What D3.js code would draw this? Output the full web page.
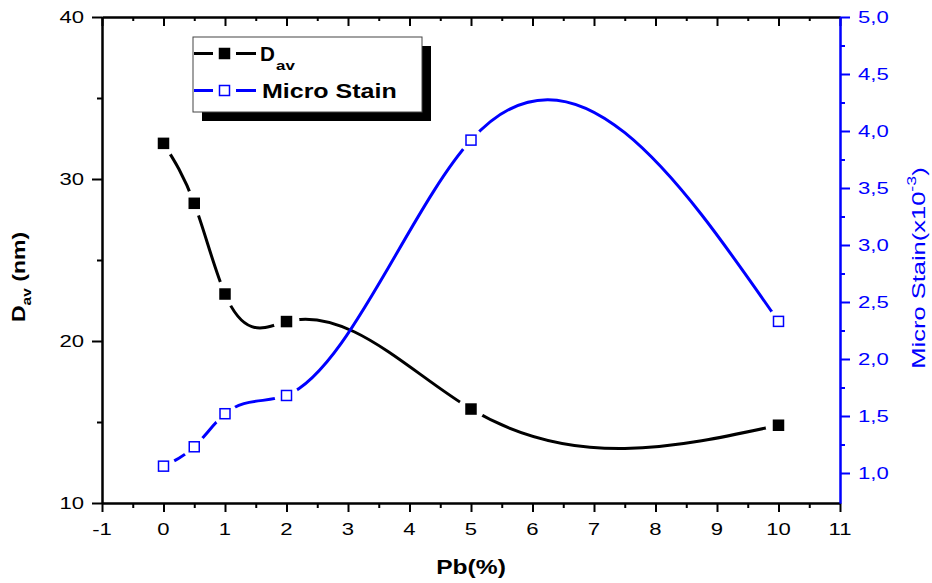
<!DOCTYPE html>
<html><head><meta charset="utf-8">
<script src="https://cdn.jsdelivr.net/npm/d3@7"></script>
<style>body{margin:0;background:#fff}</style>
</head><body>
<svg id="c" width="932" height="583"></svg>
<script>
// ---------- data ----------
const pb = [0, 0.5, 1, 2, 5, 10];
const dav = [32.2, 28.5, 22.9, 21.2, 15.8, 14.8];
const microStrain = [1.06, 1.23, 1.52, 1.68, 3.92, 2.33];
const xTicks = [-1, 0, 1, 2, 3, 4, 5, 6, 7, 8, 9, 10, 11];
const xMinor = [-0.5, 0.5, 1.5, 2.5, 3.5, 4.5, 5.5, 6.5, 7.5, 8.5, 9.5, 10.5];
const yLeftTicks = [10, 20, 30, 40];
const yLeftMinor = [15, 25, 35];
const yRightTicks = [1.0, 1.5, 2.0, 2.5, 3.0, 3.5, 4.0, 4.5, 5.0];
const yRightLabels = ["1,0", "1,5", "2,0", "2,5", "3,0", "3,5", "4,0", "4,5", "5,0"];
const yRightMinor = [1.25, 1.75, 2.25, 2.75, 3.25, 3.75, 4.25, 4.75];
const seriesNames = ["D", "Micro Stain"];

// ---------- layout ----------
const W = 932, H = 583;
const L = 102, R = 840, T = 17, B = 503;
const BLUE = "#0000ff";
const FONT = "'Liberation Sans', Arial, sans-serif";

const svg = d3.select("#c");
const x = d3.scaleLinear().domain([-1, 11]).range([L, R]);
const yL = d3.scaleLinear().domain([10, 40]).range([B, T]);
const yRbase = d3.scaleLinear().domain([1, 5]).range([473, T]);
const yR = d3.scaleLinear().domain([yRbase.invert(B), 5]).range([B, T]);

function txt(parent, px, py, s, o) {
  const t = parent.append("text")
    .attr("transform", `translate(${px},${py}) rotate(${o.rotate || 0}) scale(${o.sx || 1},1)`)
    .attr("font-family", FONT)
    .attr("font-size", o.size)
    .attr("font-weight", o.weight || "normal")
    .attr("text-anchor", o.anchor || "start")
    .attr("fill", o.fill || "#000");
  if (s !== null) t.text(s);
  return t;
}

// ---------- axes ----------
function styleAxis(g, color) {
  g.selectAll("path.domain").attr("stroke", color).attr("stroke-width", 2);
  g.selectAll(".tick line").attr("stroke", color).attr("stroke-width", 2);
  g.selectAll(".tick text").remove();
}
// bottom
const gB = svg.append("g").attr("transform", `translate(0,${B})`);
gB.call(d3.axisBottom(x).tickValues(xTicks).tickSize(9).tickSizeOuter(0).tickFormat(""));
styleAxis(gB, "#000");
const gBm = svg.append("g").attr("transform", `translate(0,${B})`);
gBm.call(d3.axisBottom(x).tickValues(xMinor).tickSize(5).tickSizeOuter(0).tickFormat(""));
styleAxis(gBm, "#000");
// top (ticks inward)
const gT = svg.append("g").attr("transform", `translate(0,${T})`);
gT.call(d3.axisTop(x).tickValues(xTicks).tickSize(-9).tickSizeOuter(0).tickFormat(""));
styleAxis(gT, "#000");
const gTm = svg.append("g").attr("transform", `translate(0,${T})`);
gTm.call(d3.axisTop(x).tickValues(xMinor).tickSize(-4).tickSizeOuter(0).tickFormat(""));
styleAxis(gTm, "#000");
// left
const gL = svg.append("g").attr("transform", `translate(${L},0)`);
gL.call(d3.axisLeft(yL).tickValues(yLeftTicks).tickSize(10).tickSizeOuter(0).tickFormat(""));
styleAxis(gL, "#000");
const gLm = svg.append("g").attr("transform", `translate(${L},0)`);
gLm.call(d3.axisLeft(yL).tickValues(yLeftMinor).tickSize(5).tickSizeOuter(0).tickFormat(""));
styleAxis(gLm, "#000");
// right (blue)
const gR = svg.append("g").attr("transform", `translate(${R},0)`);
gR.call(d3.axisRight(yR).tickValues(yRightTicks).tickSize(10).tickSizeOuter(0).tickFormat(""));
styleAxis(gR, BLUE);
const gRm = svg.append("g").attr("transform", `translate(${R},0)`);
gRm.call(d3.axisRight(yR).tickValues(yRightMinor).tickSize(5).tickSizeOuter(0).tickFormat(""));
styleAxis(gRm, BLUE);

// tick labels
const lab = svg.append("g");
xTicks.forEach(v => txt(lab, x(v), 535, String(v), {size: 17, anchor: "middle", sx: 1.3}));
yLeftTicks.forEach(v => txt(lab, 84, yL(v) + 6, String(v), {size: 17, anchor: "end", sx: 1.3}));
yRightTicks.forEach((v, i) => txt(lab, 858, yR(v) + 6, yRightLabels[i], {size: 17, anchor: "start", sx: 1.3, fill: BLUE}));

// axis titles
txt(svg, (L + R) / 2, 574, "Pb(%)", {size: 20, weight: "bold", anchor: "middle", sx: 1.23});
const lt = txt(svg, 25, 277, null, {size: 17.7, weight: "bold", anchor: "middle", rotate: -90, sx: 1.3});
lt.append("tspan").text("D");
lt.append("tspan").attr("font-size", 12).attr("dy", 6).text("av");
lt.append("tspan").attr("dy", -6).text(" (nm)");
const rt = txt(svg, 925, 268, null, {size: 18.6, anchor: "middle", rotate: -90, sx: 1.37, fill: BLUE});
rt.append("tspan").text("Micro Stain(x10");
rt.append("tspan").attr("font-size", 13).attr("dy", -9).text("-3");
rt.append("tspan").attr("dy", 9).text(")");

// ---------- natural cubic spline curve y(x) ----------
function splineX(context) {
  return {
    areaStart() {}, areaEnd() {},
    lineStart() { this._p = []; },
    point(px, py) { this._p.push([+px, +py]); },
    lineEnd() {
      const p = this._p, n = p.length;
      if (!n) return;
      context.moveTo(p[0][0], p[0][1]);
      if (n < 3) { for (let i = 1; i < n; i++) context.lineTo(p[i][0], p[i][1]); return; }
      const h = [];
      for (let i = 0; i < n - 1; i++) h.push(p[i + 1][0] - p[i][0]);
      const a = [], b = [], c = [], d = [];
      for (let i = 1; i < n - 1; i++) {
        a.push(h[i - 1]); b.push(2 * (h[i - 1] + h[i])); c.push(h[i]);
        d.push(6 * ((p[i + 1][1] - p[i][1]) / h[i] - (p[i][1] - p[i - 1][1]) / h[i - 1]));
      }
      const m = n - 2;
      for (let k = 1; k < m; k++) {
        const w = a[k] / b[k - 1];
        b[k] -= w * c[k - 1]; d[k] -= w * d[k - 1];
      }
      const sol = new Array(m);
      sol[m - 1] = d[m - 1] / b[m - 1];
      for (let k = m - 2; k >= 0; k--) sol[k] = (d[k] - c[k] * sol[k + 1]) / b[k];
      const M = [0, ...sol, 0];
      for (let i = 0; i < n - 1; i++) {
        const [x0, y0] = p[i], [x1, y1] = p[i + 1], hh = h[i];
        const sl = (y1 - y0) / hh;
        const s0 = sl - hh * (2 * M[i] + M[i + 1]) / 6;
        const s1 = sl + hh * (M[i] + 2 * M[i + 1]) / 6;
        context.bezierCurveTo(x0 + hh / 3, y0 + s0 * hh / 3, x1 - hh / 3, y1 - s1 * hh / 3, x1, y1);
      }
    }
  };
}

// ---------- series ----------
const defs = svg.append("defs");
function gapMask(id, pts, r) {
  const mk = defs.append("mask").attr("id", id).attr("maskUnits", "userSpaceOnUse")
    .attr("x", 0).attr("y", 0).attr("width", W).attr("height", H);
  mk.append("rect").attr("width", W).attr("height", H).attr("fill", "#fff");
  mk.selectAll("circle").data(pts).join("circle")
    .attr("cx", d => d[0]).attr("cy", d => d[1]).attr("r", r).attr("fill", "#000");
}
const davPts = pb.map((v, i) => [x(v), yL(dav[i])]);
const msPts = pb.map((v, i) => [x(v), yR(microStrain[i])]);
gapMask("gapDav", davPts, 13);
gapMask("gapMs", msPts, 12);

const line = d3.line().curve(splineX);
svg.append("path").attr("d", line(davPts)).attr("fill", "none")
  .attr("stroke", "#000").attr("stroke-width", 3).attr("mask", "url(#gapDav)");
svg.append("path").attr("d", line(msPts)).attr("fill", "none")
  .attr("stroke", BLUE).attr("stroke-width", 3).attr("mask", "url(#gapMs)");

const sq1 = 11.5, sq2 = 10;
svg.append("g").selectAll("rect").data(davPts).join("rect")
  .attr("x", d => d[0] - sq1 / 2).attr("y", d => d[1] - sq1 / 2)
  .attr("width", sq1).attr("height", sq1).attr("fill", "#000");
svg.append("g").selectAll("rect").data(msPts).join("rect")
  .attr("x", d => d[0] - sq2 / 2).attr("y", d => d[1] - sq2 / 2)
  .attr("width", sq2).attr("height", sq2).attr("fill", "#fff")
  .attr("stroke", BLUE).attr("stroke-width", 1.5);

// ---------- legend ----------
const lg = svg.append("g");
const lx = 193, ly = 37, lw = 229, lh = 75;
lg.append("rect").attr("x", lx + 9).attr("y", ly + 9).attr("width", lw).attr("height", lh).attr("fill", "#000");
lg.append("rect").attr("x", lx).attr("y", ly).attr("width", lw).attr("height", lh)
  .attr("fill", "#fff").attr("stroke", "#444").attr("stroke-width", 1);
const rows = [
  {y: 53.5, color: "#000", filled: true, size: sq1},
  {y: 90.5, color: BLUE, filled: false, size: sq2}
];
rows.forEach(r => {
  lg.append("line").attr("x1", 194).attr("x2", 213).attr("y1", r.y).attr("y2", r.y)
    .attr("stroke", r.color).attr("stroke-width", 3);
  lg.append("line").attr("x1", 236).attr("x2", 256).attr("y1", r.y).attr("y2", r.y)
    .attr("stroke", r.color).attr("stroke-width", 3);
  lg.append("rect").attr("x", 224.5 - r.size / 2).attr("y", r.y - r.size / 2)
    .attr("width", r.size).attr("height", r.size)
    .attr("fill", r.filled ? r.color : "#fff").attr("stroke", r.filled ? "none" : r.color)
    .attr("stroke-width", 1.5);
});
txt(lg, 260, 61, seriesNames[0], {size: 20, weight: "bold", sx: 1.03});
txt(lg, 276, 70, "av", {size: 13, weight: "bold", sx: 1.3});
txt(lg, 262, 97.5, seriesNames[1], {size: 20, weight: "bold", sx: 1.25});
</script>
</body></html>
